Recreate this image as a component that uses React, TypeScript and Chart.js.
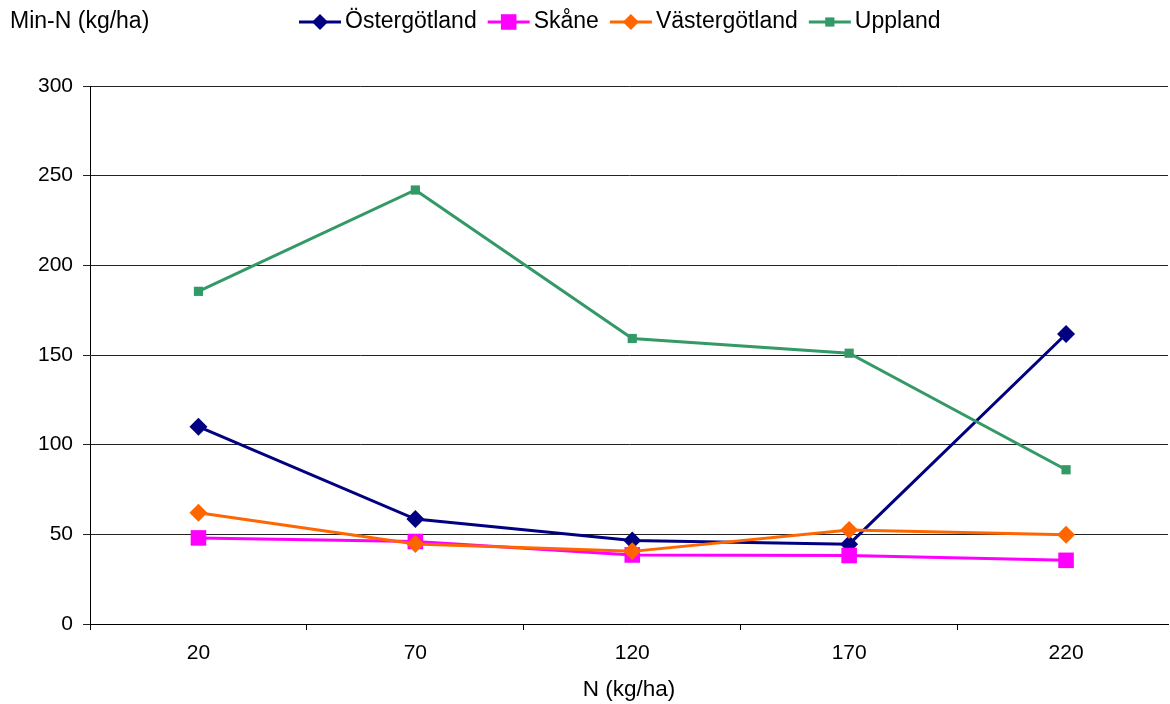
import React, { useEffect, useRef } from "react";
import { Chart, registerables } from "chart.js";

Chart.register(...registerables);

// N fertilisation levels (kg/ha)
const nLevels = [20, 70, 120, 170, 220];
// Mineral N (kg/ha) per region
const ostergotland = [110, 58.5, 46.5, 44.5, 161.7];
const skane = [48, 46, 38.5, 38.2, 35.5];
const vastergotland = [62, 44.6, 40.5, 52.4, 49.8];
const uppland = [185.5, 242, 159.2, 151, 86];
const yTicks = [0, 50, 100, 150, 200, 250, 300];

const FONT = "'Liberation Sans', Arial, sans-serif";

type Series = {
  label: string;
  values: number[];
  color: string;
  style: "rectRot" | "rect";
  radius: number;
  order: number;
};

const series: Series[] = [
  { label: "Östergötland", values: ostergotland, color: "#000080", style: "rectRot", radius: 9, order: 3 },
  { label: "Skåne", values: skane, color: "#FF00FF", style: "rect", radius: 11, order: 2 },
  { label: "Västergötland", values: vastergotland, color: "#FF6600", style: "rectRot", radius: 9, order: 1 },
  { label: "Uppland", values: uppland, color: "#339966", style: "rect", radius: 6.5, order: 0 },
];

// Half a category step on each side of the first/last level
const xMin = -5;
const xMax = 243.5;
const boundaryTicks = [-5, 45, 95, 145, 195];

// Draws the y-axis caption and the legend row above the plot
const headerPlugin = {
  id: "header",
  afterDraw(chart: Chart) {
    const ctx = chart.ctx;
    ctx.save();
    ctx.font = `23px ${FONT}`;
    ctx.fillStyle = "#000";
    ctx.textBaseline = "middle";
    ctx.textAlign = "left";
    ctx.fillText("Min-N (kg/ha)", 10, 22);

    let x = 299;
    const y = 22;
    series.forEach((s) => {
      ctx.strokeStyle = s.color;
      ctx.lineWidth = 3;
      ctx.beginPath();
      ctx.moveTo(x, y);
      ctx.lineTo(x + 42, y);
      ctx.stroke();
      ctx.fillStyle = s.color;
      const cx = x + 21;
      ctx.beginPath();
      if (s.style === "rectRot") {
        const r = 8;
        ctx.moveTo(cx - r, y);
        ctx.lineTo(cx, y - r);
        ctx.lineTo(cx + r, y);
        ctx.lineTo(cx, y + r);
        ctx.closePath();
      } else {
        const h = s.radius * Math.SQRT1_2;
        ctx.rect(cx - h, y - h, 2 * h, 2 * h);
      }
      ctx.fill();
      ctx.fillStyle = "#000";
      ctx.fillText(s.label, x + 46, y);
      x += 46 + ctx.measureText(s.label).width + 11;
    });
    ctx.restore();
  },
};

export default function App() {
  const canvasRef = useRef<HTMLCanvasElement | null>(null);

  useEffect(() => {
    if (!canvasRef.current) return;
    const chart = new Chart(canvasRef.current, {
      type: "line",
      data: {
        datasets: series.map((s) => ({
          label: s.label,
          data: nLevels.map((n, i) => ({ x: n, y: s.values[i] })),
          borderColor: s.color,
          backgroundColor: s.color,
          borderWidth: 3,
          pointStyle: s.style,
          pointRadius: s.radius,
          pointBorderWidth: 0,
          pointBackgroundColor: s.color,
          order: s.order,
          tension: 0,
        })),
      },
      options: {
        animation: false,
        responsive: false,
        devicePixelRatio: 1,
        layout: { autoPadding: false, padding: { top: 86, left: 0, right: 2, bottom: 0 } },
        plugins: {
          legend: { display: false },
          tooltip: { enabled: false },
        },
        scales: {
          x: {
            type: "linear",
            min: xMin,
            max: xMax,
            afterBuildTicks: (scale: any) => {
              scale.ticks = [...boundaryTicks, ...nLevels]
                .sort((a, b) => a - b)
                .map((v) => ({ value: v }));
            },
            afterFit: (scale: any) => {
              scale.height = 80;
              scale.paddingLeft = 0;
              scale.paddingRight = 0;
            },
            ticks: {
              autoSkip: false,
              maxRotation: 0,
              padding: 11,
              color: "#000",
              font: { family: FONT, size: 21 },
              callback: (v: any) => (nLevels.includes(Number(v)) ? String(v) : ""),
            },
            grid: {
              display: true,
              drawOnChartArea: false,
              drawTicks: true,
              tickLength: 6,
              lineWidth: 1,
              color: (c: any) =>
                c.tick && nLevels.includes(c.tick.value) ? "rgba(0,0,0,0)" : "#000",
            },
            border: { display: true, color: "#000", width: 1 },
            title: {
              display: true,
              text: "N (kg/ha)",
              color: "#000",
              font: { family: FONT, size: 22.5 },
              padding: { top: 0, bottom: 1 },
            },
          },
          y: {
            type: "linear",
            min: 0,
            max: 300,
            afterBuildTicks: (scale: any) => {
              scale.ticks = yTicks.map((v) => ({ value: v }));
            },
            afterFit: (scale: any) => {
              scale.width = 90;
            },
            ticks: {
              padding: 10,
              color: "#000",
              font: { family: FONT, size: 21 },
            },
            grid: {
              color: "#222",
              lineWidth: 1,
              drawTicks: true,
              tickLength: 7,
            },
            border: { display: true, color: "#000", width: 1 },
          },
        },
      },
      plugins: [headerPlugin],
    });
    return () => chart.destroy();
  }, []);

  return (
    <div style={{ position: "fixed", left: 0, top: 0, width: 1170, height: 704, background: "#fff" }}>
      <canvas ref={canvasRef} width={1170} height={704} style={{ display: "block" }} />
    </div>
  );
}
